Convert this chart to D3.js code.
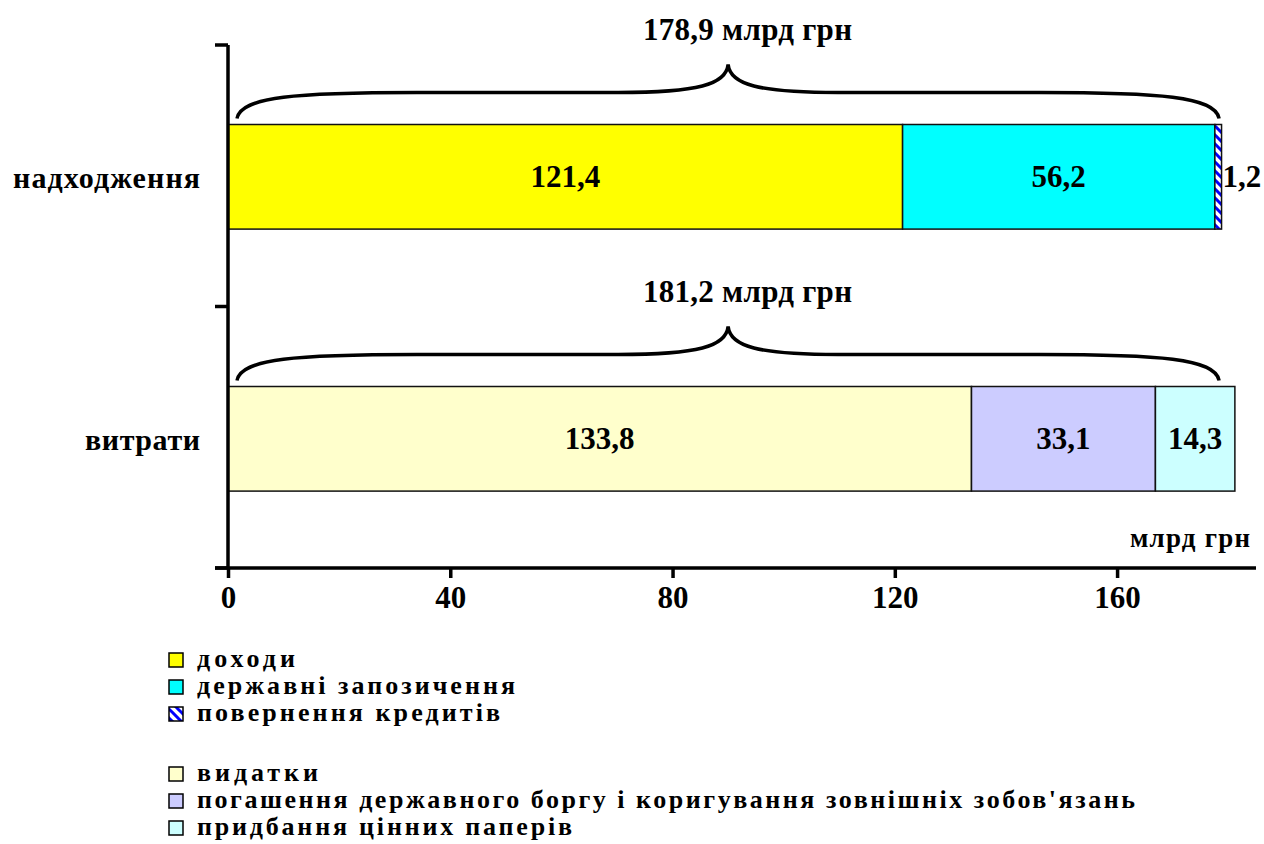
<!DOCTYPE html>
<html><head><meta charset="utf-8">
<script src="https://cdn.jsdelivr.net/npm/d3@7"></script>
<style>body{margin:0;background:#fff}svg{display:block}</style>
</head><body>
<svg id="c" width="1264" height="844"></svg>
<script>
const categories = ["надходження", "витрати"];
const incomeSeries = ["доходи", "державні запозичення", "повернення кредитів"];
const incomeValues = [121.4, 56.2, 1.2];
const spendSeries = ["видатки", "погашення державного боргу і коригування зовнішніх зобов'язань", "придбання цінних паперів"];
const spendValues = [133.8, 33.1, 14.3];
const totals = ["178,9 млрд грн", "181,2 млрд грн"];
const xTicks = [0, 40, 80, 120, 160];
const unitLabel = "млрд грн";

const FONT = "'Liberation Serif','Times New Roman',Tinos,serif";
const incomeColors = ["#ffff00", "#00ffff", "url(#hatch)"];
const spendColors = ["#ffffcc", "#ccccff", "#ccffff"];
const incomeLegendW = [98, 318, 303];
const spendLegendW = [121, 938, 375];
const catLabelW = [187, 115];

const svg = d3.select("#c");
const T = sel => sel.style("font-family", FONT).style("font-weight", "bold").attr("fill", "#000");
const defs = svg.append("defs");
const pat = defs.append("pattern").attr("id","hatch").attr("patternUnits","userSpaceOnUse")
  .attr("width",9).attr("height",9);
pat.append("rect").attr("width",9).attr("height",9).attr("fill","#fff");
pat.append("path").attr("d","M-2,-2 L11,11 M-2,7 L2,11 M7,-2 L11,2").attr("stroke","#0000ff").attr("stroke-width",3);

const x = d3.scaleLinear().domain([0,185]).range([228,1256]);
const y = d3.scaleBand().domain(categories).range([45,568]).padding(0);
const barH = y.bandwidth()*0.4;
const fmt = v => String(v).replace(".", ",");

const rows = [
  {cat: categories[0], vals: incomeValues, cols: incomeColors},
  {cat: categories[1], vals: spendValues, cols: spendColors}
];

rows.forEach((r, ri) => {
  let acc = 0;
  const y0 = Math.round(y(r.cat) + (y.bandwidth()-barH)/2) + 1.5;
  const cy = y0 + barH/2;
  r.vals.forEach((v, i) => {
    const xs = x(acc), xe = x(acc+v);
    svg.append("rect").attr("x",xs).attr("y",y0).attr("width",xe-xs).attr("height",barH)
      .attr("fill",r.cols[i]).attr("stroke","#111").attr("stroke-width",1.5);
    const small = v < 5;
    svg.append("text").attr("x", small ? xe+1 : (xs+xe)/2).attr("y", cy+10)
      .attr("text-anchor", small ? "start":"middle")
      .style("font-size","31px").call(T).text(fmt(v));
    acc += v;
  });
  // brace
  const bx0 = x(0)+9, bx1 = x(178.9)-3, bm = x(90);
  const yE = y0-6, yF = y0-32, yP = y0-60;
  const p = `M${bx0},${yE} C${bx0+4},${yF+4} ${bx0+60},${yF} ${bx0+180},${yF} L${bm-110},${yF} C${bm-30},${yF} ${bm-2},${yF-8} ${bm},${yP} C${bm+2},${yF-8} ${bm+30},${yF} ${bm+110},${yF} L${bx1-180},${yF} C${bx1-60},${yF} ${bx1-4},${yF+4} ${bx1},${yE}`;
  svg.append("path").attr("d",p).attr("fill","none").attr("stroke","#000").attr("stroke-width",3.5);
  svg.append("text").attr("x",643).attr("y",yP-25).attr("textLength",209).attr("lengthAdjust","spacing")
    .style("font-size","31px").call(T).text(totals[ri]);
  // category label
  svg.append("text").attr("x",200-catLabelW[ri]).attr("y",cy+11)
    .attr("textLength",catLabelW[ri]).attr("lengthAdjust","spacing")
    .style("font-size","30px").call(T).text(r.cat);
});

// x axis
const xa = svg.append("g").attr("transform","translate(0,568)")
  .call(d3.axisBottom(x).tickValues(xTicks).tickSize(10).tickSizeOuter(0).tickFormat(d=>d));
xa.attr("font-family", null);
xa.select(".domain").attr("stroke","#000").attr("stroke-width",3.5).attr("d","M215,0H1256");
xa.selectAll(".tick line").attr("stroke","#000").attr("stroke-width",3.5);
xa.selectAll(".tick text").style("font-size","31px").attr("y",40).attr("dy",null).call(T);

// y axis
svg.append("line").attr("x1",x(0)).attr("x2",x(0)).attr("y1",y.range()[0]).attr("y2",y.range()[1])
  .attr("stroke","#000").attr("stroke-width",3.5);
[y(categories[0]), y(categories[1]), y.range()[1]].forEach(t => {
  svg.append("line").attr("x1",215).attr("x2",x(0)).attr("y1",t).attr("y2",t)
    .attr("stroke","#000").attr("stroke-width",3.5);
});

svg.append("text").attr("x",1130).attr("y",547).attr("textLength",120).attr("lengthAdjust","spacing")
  .style("font-size","27px").call(T).text(unitLabel);

// legend
const leg = [
  ...incomeSeries.map((s,i)=>({s, c: incomeColors[i], w: incomeLegendW[i], b: 667+i*27})),
  ...spendSeries.map((s,i)=>({s, c: spendColors[i], w: spendLegendW[i], b: 781+i*27}))
];
leg.forEach(d => {
  svg.append("rect").attr("x",169).attr("y",d.b-14).attr("width",14).attr("height",14)
    .attr("fill",d.c).attr("stroke","#000").attr("stroke-width",1.5);
  svg.append("text").attr("x",197).attr("y",d.b).style("font-size","26px")
    .attr("textLength",d.w).attr("lengthAdjust","spacing").call(T).text(d.s);
});
</script>
</body></html>
